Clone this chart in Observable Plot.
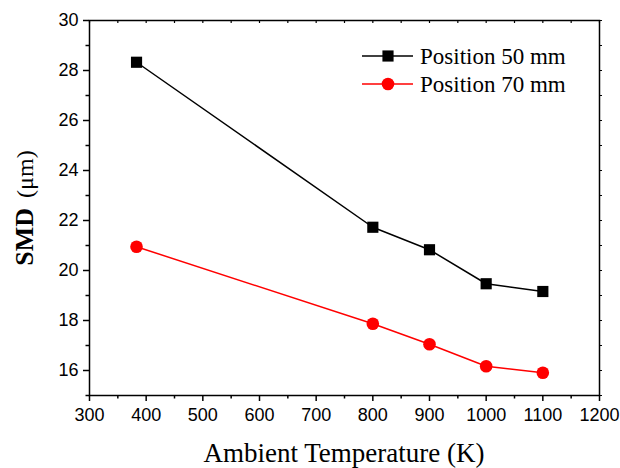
<!DOCTYPE html>
<html>
<head>
<meta charset="utf-8">
<script src="https://cdn.jsdelivr.net/npm/d3@7"></script>
<script src="https://cdn.jsdelivr.net/npm/@observablehq/plot@0.6"></script>
<style>
  html, body { margin: 0; padding: 0; background: #fff; }
</style>
</head>
<body>
<div id="chart"></div>
<script>
const temps = [383, 800, 900, 1000, 1100];
const smd50 = [28.33, 21.73, 20.83, 19.47, 19.16];
const smd70 = [20.95, 17.87, 17.05, 16.17, 15.91];
const seriesNames = ["Position 50 mm", "Position 70 mm"];
const seriesColors = ["#000000", "#ff0000"];
const seriesSymbols = ["square", "circle"];
const xMajorTicks = [300, 400, 500, 600, 700, 800, 900, 1000, 1100, 1200];
const yMajorTicks = [16, 18, 20, 22, 24, 26, 28, 30];
const xLabel = "Ambient Temperature (K)";
const yLabelBold = "SMD";
const yLabelUnit = "(μm)";

const rows = [];
temps.forEach((t, i) => rows.push({T: t, v: smd50[i], s: seriesNames[0]}));
temps.forEach((t, i) => rows.push({T: t, v: smd70[i], s: seriesNames[1]}));

const xMinor = xMajorTicks.slice(0, -1).map(d => d + 50);
const yMinor = yMajorTicks.map(d => d - 1);
const xTop = d3.range(300, 1201, 50);
const yRight = d3.range(15, 31, 1);

const serif = "'Liberation Serif', 'Times New Roman', serif";

function legendMark(index, scales, values, dims) {
  const g = d3.create("svg:g");
  const y0 = 56, dy = 28, x1 = 362, x2 = 413, xm = 388, xt = 420;
  seriesNames.forEach((name, i) => {
    const y = y0 + i * dy;
    g.append("line").attr("x1", x1).attr("x2", x2).attr("y1", y).attr("y2", y)
      .attr("stroke", seriesColors[i]).attr("stroke-width", 1.5);
    const sym = seriesSymbols[i] === "square" ? d3.symbolSquare : d3.symbolCircle;
    g.append("path").attr("transform", `translate(${xm},${y})`)
      .attr("d", d3.symbol(sym, Math.PI * 6.3 * 6.3)())
      .attr("fill", seriesColors[i]);
    g.append("text").attr("x", xt).attr("y", y).attr("dy", "0.35em")
      .style("text-anchor", "start")
      .style("font-family", serif).style("font-size", "23px").attr("fill", "#000")
      .text(name);
  });
  return g.node();
}

function labelsMark(index, scales, values, dims) {
  const g = d3.create("svg:g");
  const cx = (dims.marginLeft + dims.width - dims.marginRight) / 2;
  g.append("text").attr("x", cx).attr("y", 462).style("text-anchor", "middle")
    .style("font-family", serif).style("font-size", "27px").attr("fill", "#000")
    .text(xLabel);
  const t = g.append("text").attr("transform", "translate(33,208) rotate(-90)")
    .style("text-anchor", "middle").style("font-family", serif).attr("fill", "#000");
  t.append("tspan").style("font-weight", "bold").style("font-size", "26px").text(yLabelBold);
  t.append("tspan").attr("dx", 10).style("font-size", "24px").text(yLabelUnit);
  return g.node();
}

const chart = Plot.plot({
  width: 620,
  height: 468,
  marginLeft: 89,
  marginRight: 21,
  marginTop: 20,
  marginBottom: 73,
  style: {fontFamily: "'Liberation Sans', Arial, sans-serif", fontSize: "18px", color: "#000", background: "#fff"},
  x: {domain: [300, 1200], label: null},
  y: {domain: [15, 30], label: null},
  marks: [
    Plot.axisX({ticks: xMajorTicks, tickSize: 6, tickPadding: 7, tickFormat: d => String(d), fontSize: 18, strokeWidth: 1.5, label: null}),
    Plot.axisX({ticks: xMinor, tickSize: 3.5, text: null, strokeWidth: 1.5, label: null}),
    Plot.axisX({anchor: "top", ticks: xTop, tickSize: 2, dy: 2, text: null, strokeWidth: 1.2, label: null}),
    Plot.axisY({ticks: yMajorTicks, tickSize: 6, tickPadding: 5, tickFormat: d => String(d), fontSize: 18, strokeWidth: 1.5, label: null}),
    Plot.axisY({ticks: yMinor, tickSize: 3.5, text: null, strokeWidth: 1.5, label: null}),
    Plot.axisY({anchor: "right", ticks: yRight, tickSize: 2, text: null, strokeWidth: 1.2, label: null}),
    Plot.frame({stroke: "#000", strokeWidth: 1.5}),
    Plot.line(rows, {x: "T", y: "v", z: "s", stroke: "s", strokeWidth: 1.5}),
    Plot.dot(rows, {x: "T", y: "v", fill: "s", symbol: "s", r: 6.3, stroke: null}),
    legendMark,
    labelsMark
  ],
  color: {domain: seriesNames, range: seriesColors},
  symbol: {domain: seriesNames, range: seriesSymbols}
});
document.getElementById("chart").appendChild(chart);
</script>
</body>
</html>
